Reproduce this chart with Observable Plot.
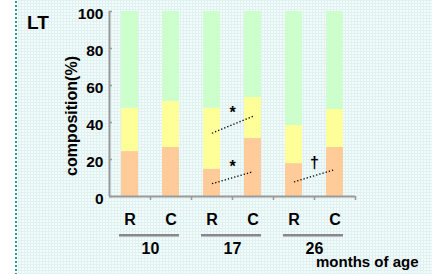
<!DOCTYPE html>
<html><head><meta charset="utf-8">
<script src="https://cdn.jsdelivr.net/npm/d3@7"></script>
<script src="https://cdn.jsdelivr.net/npm/@observablehq/plot@0.6"></script>
<style>
html,body{margin:0;padding:0;background:#fff;}
#wrap{position:relative;width:432px;height:274px;overflow:hidden;font-family:"Liberation Sans",Arial,sans-serif;font-weight:bold;color:#000;}
#bg{position:absolute;left:18px;top:0;right:0;bottom:0;background-color:#f4fbfb;background-image:linear-gradient(#e0f1f1 1px,transparent 1px),linear-gradient(90deg,#e0f1f1 1px,transparent 1px);background-size:3px 3px;}
#dots{position:absolute;left:15px;top:1px;width:2px;height:274px;background:repeating-linear-gradient(to bottom,#1a9e9e 0 2px,transparent 2px 4px);}
#chart{position:absolute;left:0;top:0;}
.lbl{position:absolute;white-space:nowrap;line-height:normal;}
</style></head><body>
<div id="wrap">
<div id="bg"></div><div id="dots"></div>
<div id="chart"></div>
<div class="lbl" style="left:27px;top:12px;font-size:19px;">LT</div>
<div class="lbl" style="left:72px;top:116px;font-size:16px;transform:translate(-50%,-50%) rotate(-90deg);">composition(%)</div>
<div class="lbl" style="left:316px;top:253px;font-size:15px;">months of age</div>
</div>
<script>
const categories = ["R10","C10","R17","C17","R26","C26"];
const barLabels = ["R","C","R","C","R","C"];
const series = ["bottom","middle","top"];
const colors = ["#ffcc99","#ffff99","#ccffcc"];
const bottomVals = [24.3, 26.5, 14.8, 31.5, 17.8, 26.5];
const middleVals = [23.4, 24.9, 32.9, 22.0, 20.6, 20.5];
const topVals    = [52.3, 48.6, 52.3, 46.5, 61.6, 53.0];
const yTicks = [0, 20, 40, 60, 80, 100];
const groups = ["10","17","26"];
const groupStart = ["R10","R17","R26"];
const groupEnd = ["C10","C17","C26"];
const annFrom = ["R17","R17","R26"];
const annTo = ["C17","C17","C26"];
const annY1 = [34.2, 6.9, 7.9];
const annY2 = [43.4, 13.4, 14.6];
const annMark = ["*","*","\u2020"];
const annMarkY = [45.2, 16.2, 18.4];

const allVals = [bottomVals, middleVals, topVals];
const rows = categories.flatMap((c, i) => series.map((s, j) => ({cat: c, series: s, value: allVals[j][i]})));
const annIdx = d3.range(annFrom.length);
const groupIdx = d3.range(groups.length);
const half = 20.5;

const chart = Plot.plot({
  width: 432, height: 274,
  marginLeft: 109, marginRight: 77, marginTop: 11, marginBottom: 78,
  style: {background: "transparent", fontFamily: "Liberation Sans, Arial, sans-serif", fontWeight: "bold", color: "#000", overflow: "visible"},
  x: {domain: categories, paddingInner: 0.585, paddingOuter: 0.2925},
  y: {domain: [0, 100]},
  color: {type: "ordinal", domain: series, range: colors},
  marks: [
    Plot.barY(rows, {x: "cat", y: "value", fill: "series"}),
    Plot.ruleY([0], {stroke: "#9a9a9a", strokeWidth: 2}),
    Plot.ruleX([categories[0]], {y1: 0, y2: 100, dx: -half, stroke: "#9a9a9a", strokeWidth: 2}),
    Plot.axisY(yTicks, {tickSize: 3, dx: 3, fill: "none", stroke: "#9a9a9a", strokeWidth: 1.5, label: null}),
    Plot.axisY(yTicks, {tickSize: 0, tickPadding: 6, dy: 3, fontSize: 15.5, fontWeight: "bold", fill: "#000", label: null}),
    Plot.axisX(categories, {tickSize: 0, tickPadding: 17, tickFormat: d => barLabels[categories.indexOf(d)], fontSize: 16, fontWeight: "bold", fill: "#000", label: null}),
    Plot.axisX(categories, {tickSize: 4, dx: half, fill: "none", stroke: "#9a9a9a", strokeWidth: 1.5, label: null}),
    Plot.axisX(groupStart, {tickSize: 0, tickPadding: 46, dx: half, tickFormat: d => groups[groupStart.indexOf(d)], fontSize: 16, fontWeight: "bold", fill: "#000", label: null}),
    Plot.ruleY(groupIdx, {x1: i => groupStart[i], x2: i => groupEnd[i], y: () => -20.9, insetLeft: -2, stroke: "#888", strokeWidth: 2.5}),
    Plot.link(annIdx, {x1: i => annFrom[i], x2: i => annTo[i], y1: i => annY1[i], y2: i => annY2[i], stroke: "#000", strokeWidth: 1.3, strokeDasharray: "1.3,2"}),
    Plot.text(annIdx, {x: i => annFrom[i], y: i => annMarkY[i], text: i => annMark[i], dx: half, fontSize: 16, fontWeight: "bold", fill: "#000"})
  ]
});
document.getElementById("chart").appendChild(chart);
</script>
</body></html>
